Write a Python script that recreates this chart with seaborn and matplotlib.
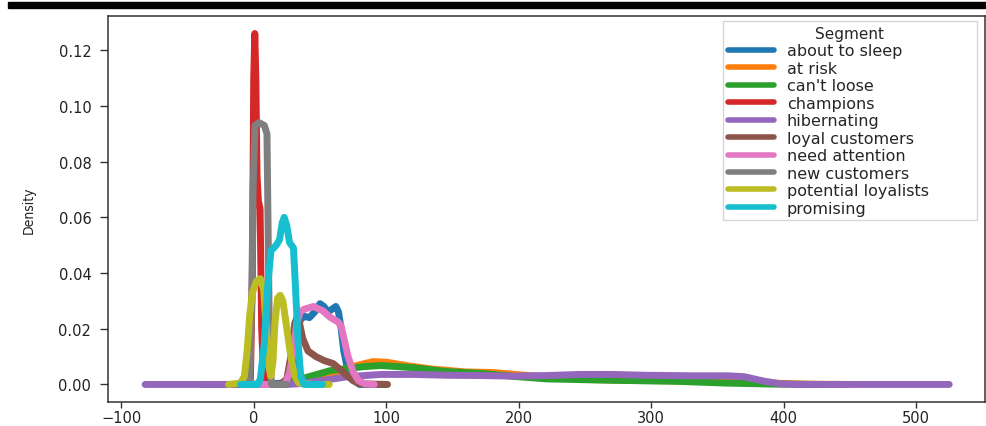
import numpy as np
import pandas as pd
import matplotlib
matplotlib.use("Agg")
import matplotlib.pyplot as plt
from matplotlib.patches import Rectangle
import seaborn as sns

# ---- data (recency value, density) ----
segments = ["about to sleep", "at risk", "can't loose", "champions", "hibernating",
            "loyal customers", "need attention", "new customers",
            "potential loyalists", "promising"]

about_to_sleep_x = [-5, 25, 30, 33, 35, 38, 42, 46, 50, 53, 56, 59, 62, 64, 66, 68, 71, 75, 80, 100]
about_to_sleep_y = [0, 0.0005, 0.005, 0.018, 0.023, 0.0245, 0.024, 0.026, 0.029, 0.028, 0.026,
                    0.027, 0.028, 0.026, 0.02, 0.012, 0.005, 0.0015, 0, 0]

at_risk_x = [-40, 20, 40, 60, 75, 90, 100, 115, 135, 160, 180, 200, 225, 250, 280, 320, 360, 390, 420, 450]
at_risk_y = [0, 0, 0.0015, 0.004, 0.0065, 0.0082, 0.008, 0.0068, 0.0055, 0.0045, 0.0043, 0.0035,
             0.0025, 0.0018, 0.0015, 0.0013, 0.001, 0.0005, 0.0001, 0]

cant_loose_x = [-40, 20, 36, 58, 83, 96, 121, 146, 171, 196, 221, 271, 321, 356, 395, 430]
cant_loose_y = [0, 0, 0.002, 0.005, 0.0064, 0.0068, 0.006, 0.0046, 0.004, 0.0029, 0.002,
                0.0015, 0.0011, 0.0005, 0.0001, 0]

champions_x = [-5, -2.5, -1, 0, 0.8, 1.6, 2.5, 3.5, 4.8, 5.3, 6, 7.5, 10]
champions_y = [0, 0.002, 0.04, 0.11, 0.126, 0.11, 0.075, 0.066, 0.063, 0.045, 0.02, 0.003, 0]

hibernating_x = [-82, 25, 35, 46, 71, 96, 121, 146, 171, 196, 221, 246, 271, 296, 333, 358,
                 370, 385, 398, 410, 525]
hibernating_y = [0, 0, 0.0003, 0.001, 0.0028, 0.0036, 0.0036, 0.0033, 0.0032, 0.003, 0.0032,
                 0.0036, 0.0036, 0.0033, 0.0031, 0.0031, 0.0028, 0.0012, 0.0002, 0, 0]

loyal_customers_x = [-10, 20, 25, 28, 31, 33.5, 35, 37, 41, 47, 53, 60, 64.5, 70, 75, 80, 101]
loyal_customers_y = [0, 0, 0.002, 0.01, 0.022, 0.025, 0.021, 0.0165, 0.012, 0.01, 0.0086,
                     0.0075, 0.0057, 0.0033, 0.0014, 0.0002, 0]

need_attention_x = [-5, 22, 24, 27, 30, 32.5, 35, 38, 45, 52, 58, 63.5, 66, 71, 75, 79, 84, 91]
need_attention_y = [0, 0, 0.0005, 0.004, 0.012, 0.022, 0.026, 0.027, 0.028, 0.0265, 0.024,
                    0.0225, 0.021, 0.0104, 0.0046, 0.0014, 0.0002, 0]

new_customers_x = [-8, -3, -1.5, -0.5, 1, 4, 8, 10, 11, 12, 13.5, 25]
new_customers_y = [0, 0.002, 0.03, 0.07, 0.093, 0.094, 0.093, 0.09, 0.05, 0.01, 0, 0]

potential_loyalists_x = [-19, -10, -7, -5, -3, -1, 2, 5, 7.5, 9.5, 11.5, 13, 14.5, 16, 18, 20,
                         22, 25, 28, 31, 34, 45, 57]
potential_loyalists_y = [0, 0.0005, 0.003, 0.012, 0.025, 0.033, 0.037, 0.038, 0.034, 0.02,
                         0.006, 0.003, 0.008, 0.022, 0.031, 0.032, 0.03, 0.02, 0.01, 0.003,
                         0.0005, 0, 0]

promising_x = [-10, 3, 5, 8, 10.5, 13, 17, 19.5, 21.5, 23, 25, 27, 30, 31.5, 33.5, 35.5, 38, 52]
promising_y = [0, 0, 0.002, 0.015, 0.035, 0.048, 0.05, 0.052, 0.058, 0.06, 0.057, 0.051,
               0.049, 0.035, 0.015, 0.003, 0, 0]

xticks = [-100, 0, 100, 200, 300, 400, 500]
yticks = [0.00, 0.02, 0.04, 0.06, 0.08, 0.10, 0.12]

series = [
    (about_to_sleep_x, about_to_sleep_y),
    (at_risk_x, at_risk_y),
    (cant_loose_x, cant_loose_y),
    (champions_x, champions_y),
    (hibernating_x, hibernating_y),
    (loyal_customers_x, loyal_customers_y),
    (need_attention_x, need_attention_y),
    (new_customers_x, new_customers_y),
    (potential_loyalists_x, potential_loyalists_y),
    (promising_x, promising_y),
]

frames = []
for name, (xs, ys) in zip(segments, series):
    frames.append(pd.DataFrame({"x": xs, "Density": ys, "Segment": name}))
df = pd.concat(frames, ignore_index=True)

# ---- style ----
sns.set_style("ticks")
plt.rcParams["font.family"] = ["DejaVu Sans"]

fig = plt.figure(figsize=(9.87, 4.27), dpi=100)
ax = fig.add_axes([108 / 987, 1 - 403 / 427, (985 - 108) / 987, (403 - 17) / 427])

palette = sns.color_palette("tab10", 10)
sns.lineplot(data=df, x="x", y="Density", hue="Segment", hue_order=segments,
             palette=palette, linewidth=5, sort=False, estimator=None,
             units="Segment", ax=ax, legend=True)

ax.set_xlim(-110, 552)
ax.set_ylim(-0.0063, 0.1323)
ax.set_xticks(xticks)
ax.set_yticks(yticks)
ax.set_yticklabels([f"{v:.2f}" for v in yticks])
ax.set_xticklabels([str(v).replace("-", "\u2212") for v in xticks])
ax.set_xlabel("")
ax.set_ylabel("Density", fontsize=10, fontstretch="condensed", color="#222222")
ax.yaxis.set_label_coords(-0.082, 0.5)
ax.tick_params(axis="y", labelsize=10.5, length=6, width=1, pad=6, colors="#333333",
               labelcolor="#222222")
ax.tick_params(axis="x", labelsize=10.5, length=4, width=1, pad=1.5, colors="#333333",
               labelcolor="#222222")
for s in ax.spines.values():
    s.set_visible(True)
    s.set_color("#333333")
    s.set_linewidth(1.1)

# legend box: x 723..977 px, top at 22 px
lx0 = (723 - 108) / 877
lw = (977 - 723) / 877
ltop = (403 - 22) / 386
leg = ax.legend(title="Segment", loc="upper left", bbox_to_anchor=(lx0, 0.3, lw, ltop - 0.3),
                mode="expand", borderaxespad=0, fontsize=11.5, title_fontsize=11,
                labelspacing=0.155, handlelength=2.9, handletextpad=0.8,
                borderpad=0.3, frameon=True, fancybox=False)
for line in leg.get_lines():
    line.set_linewidth(4)
leg.get_frame().set_edgecolor("#cccccc")

# top black rule of the screenshot
fig.add_artist(Rectangle((8 / 987, 1 - 9 / 427), (987 - 8) / 987, 6 / 427,
                         transform=fig.transFigure, color="black", zorder=10))

fig.savefig("out.png", dpi=100)
